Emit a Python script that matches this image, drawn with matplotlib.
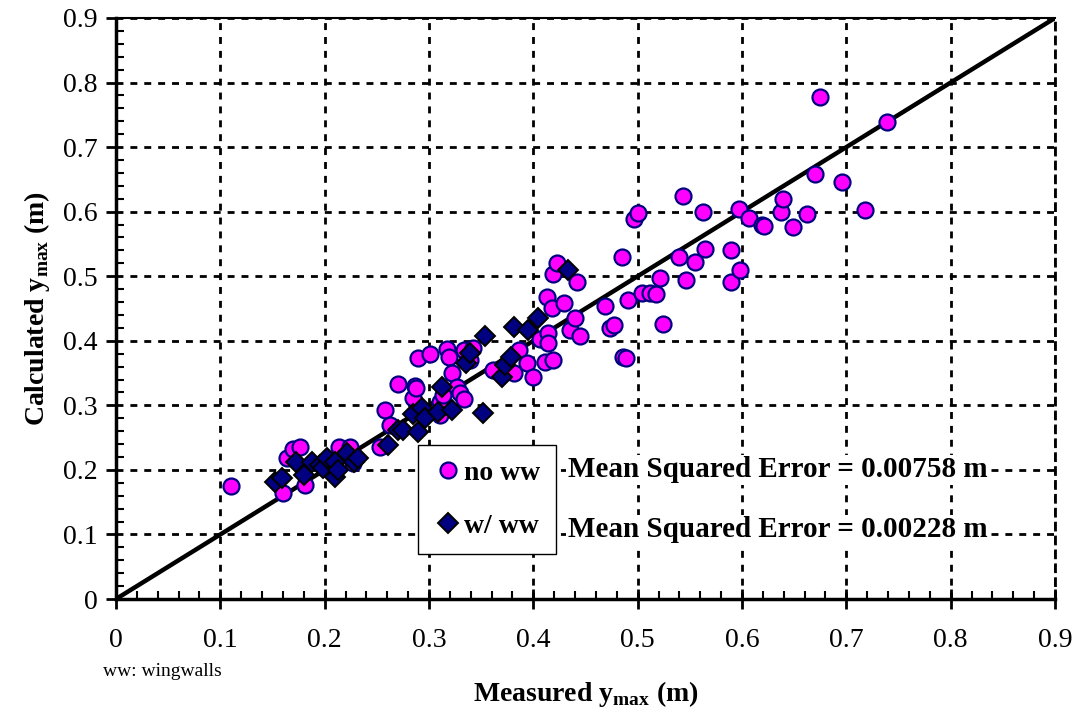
import matplotlib.pyplot as plt
import numpy as np

plt.rcParams['font.family'] = ['Liberation Serif', 'DejaVu Serif']
plt.rcParams['mathtext.fontset'] = 'custom'
plt.rcParams['mathtext.rm'] = 'Liberation Serif'
plt.rcParams['mathtext.bf'] = 'Liberation Serif:bold'

# no wingwalls (measured, calculated)
no_ww_x = [0.110, 0.160, 0.164, 0.170, 0.176, 0.181, 0.214, 0.224, 0.227, 0.253,
           0.258, 0.263, 0.270, 0.285, 0.287, 0.288, 0.289, 0.301, 0.311, 0.311,
           0.313, 0.317, 0.319, 0.322, 0.327, 0.330, 0.334, 0.334, 0.339, 0.342,
           0.361, 0.381, 0.386, 0.394, 0.400, 0.406, 0.411, 0.413, 0.414, 0.414,
           0.418, 0.419, 0.419, 0.423, 0.429, 0.435, 0.440, 0.442, 0.445, 0.469,
           0.473, 0.477, 0.485, 0.486, 0.489, 0.491, 0.496, 0.500, 0.504, 0.512,
           0.518, 0.521, 0.524, 0.540, 0.543, 0.546, 0.555, 0.563, 0.565, 0.589,
           0.589, 0.597, 0.598, 0.607, 0.619, 0.621, 0.637, 0.639, 0.649, 0.662,
           0.670, 0.675, 0.696, 0.718, 0.739]
no_ww_y = [0.175, 0.164, 0.218, 0.232, 0.236, 0.177, 0.236, 0.236, 0.210, 0.236,
           0.293, 0.270, 0.333, 0.311, 0.330, 0.327, 0.373, 0.379, 0.305, 0.285,
           0.316, 0.387, 0.375, 0.350, 0.328, 0.319, 0.310, 0.386, 0.370, 0.389,
           0.355, 0.350, 0.386, 0.365, 0.344, 0.403, 0.367, 0.468, 0.412, 0.397,
           0.451, 0.370, 0.503, 0.520, 0.458, 0.417, 0.435, 0.491, 0.408, 0.454,
           0.420, 0.424, 0.530, 0.375, 0.373, 0.463, 0.589, 0.598, 0.474, 0.474,
           0.472, 0.497, 0.426, 0.530, 0.624, 0.494, 0.522, 0.599, 0.542, 0.541,
           0.491, 0.604, 0.510, 0.590, 0.580, 0.578, 0.600, 0.620, 0.576, 0.596,
           0.658, 0.778, 0.646, 0.602, 0.739]

# with wingwalls
ww_x = [0.152, 0.159, 0.173, 0.180, 0.188, 0.196, 0.198, 0.202, 0.210, 0.210,
        0.213, 0.221, 0.228, 0.232, 0.261, 0.270, 0.275, 0.285, 0.289, 0.293,
        0.296, 0.309, 0.312, 0.322, 0.335, 0.339, 0.352, 0.354, 0.370, 0.373,
        0.379, 0.381, 0.395, 0.404, 0.433]
ww_y = [0.181, 0.187, 0.212, 0.192, 0.212, 0.207, 0.203, 0.218, 0.212, 0.189,
        0.200, 0.226, 0.212, 0.218, 0.239, 0.262, 0.262, 0.287, 0.259, 0.296,
        0.280, 0.290, 0.328, 0.293, 0.366, 0.381, 0.288, 0.407, 0.344, 0.362,
        0.375, 0.421, 0.417, 0.435, 0.510]

ticks = [0, 0.1, 0.2, 0.3, 0.4, 0.5, 0.6, 0.7, 0.8, 0.9]
tick_labels = ['0', '0.1', '0.2', '0.3', '0.4', '0.5', '0.6', '0.7', '0.8', '0.9']

fig = plt.figure(figsize=(10.76, 7.11), dpi=100)
ax = fig.add_axes([0.1078, 0.1575, 0.8727, 0.8172])

ax.plot([0, 0.9], [0, 0.9], color='black', lw=3.2, zorder=2)
ax.plot(no_ww_x, no_ww_y, 'o', ms=11.5, mfc='#FF00FF', mec='#000080', mew=1.6,
        ls='none', label='no ww', zorder=3)
ax.plot(ww_x, ww_y, 'D', ms=10, mfc='#000080', mec='black', mew=1.4,
        ls='none', label='w/ ww', zorder=4)

ax.set_xlim(0, 0.9)
ax.set_ylim(0, 0.9)
ax.set_xticks(ticks)
ax.set_xticklabels(tick_labels)
ax.set_yticks(ticks)
ax.set_yticklabels(tick_labels)
ax.set_xticks(np.arange(0, 0.9, 0.02), minor=True)
ax.set_yticks(np.arange(0, 0.9, 0.02), minor=True)

ax.grid(True, which='major', color='black', ls=(0, (2.5, 2.5)), lw=2)
ax.set_axisbelow(True)

ax.tick_params(axis='x', which='major', direction='inout', length=14, width=2,
               labelsize=20, pad=14)
ax.tick_params(axis='x', which='minor', direction='in', length=6, width=1.5)
ax.tick_params(axis='y', which='major', direction='out', length=7, width=2,
               labelsize=20, pad=6)
ax.tick_params(axis='y', which='minor', direction='in', length=6, width=1.5)

for s in ['left', 'bottom']:
    ax.spines[s].set_linewidth(2.5)
ax.spines['top'].set_linewidth(1.5)
ax.spines['right'].set_linestyle((0, (2.5, 2.5)))
ax.spines['right'].set_linewidth(2)

ax.set_xlabel(r'Measured y$_{\mathbf{max}}$ (m)', fontsize=20, fontweight='bold')
ax.xaxis.set_label_coords(0.5, -0.138)
ax.set_ylabel(r'Calculated y$_{\mathbf{max}}$ (m)', fontsize=20, fontweight='bold',
              labelpad=8)

leg = ax.legend(loc='upper left', bbox_to_anchor=(0.322, 0.265), borderaxespad=0,
                frameon=True, fancybox=False, edgecolor='black', framealpha=1,
                prop={'weight': 'bold', 'size': 20}, handletextpad=0.1,
                handlelength=1.0, labelspacing=1.0, borderpad=0.55)
leg.get_frame().set_linewidth(1.0)

ax.text(0.433, 0.200, 'Mean Squared Error = 0.00758 m', fontsize=21,
        fontweight='bold', va='center', ha='left',
        bbox=dict(facecolor='white', edgecolor='none', pad=1), zorder=5)
ax.text(0.433, 0.107, 'Mean Squared Error = 0.00228 m', fontsize=21,
        fontweight='bold', va='center', ha='left',
        bbox=dict(facecolor='white', edgecolor='none', pad=1), zorder=5)

fig.text(0.096, 0.056, 'ww: wingwalls', fontsize=14, ha='left', va='center')

fig.savefig('out.png', dpi=100)
